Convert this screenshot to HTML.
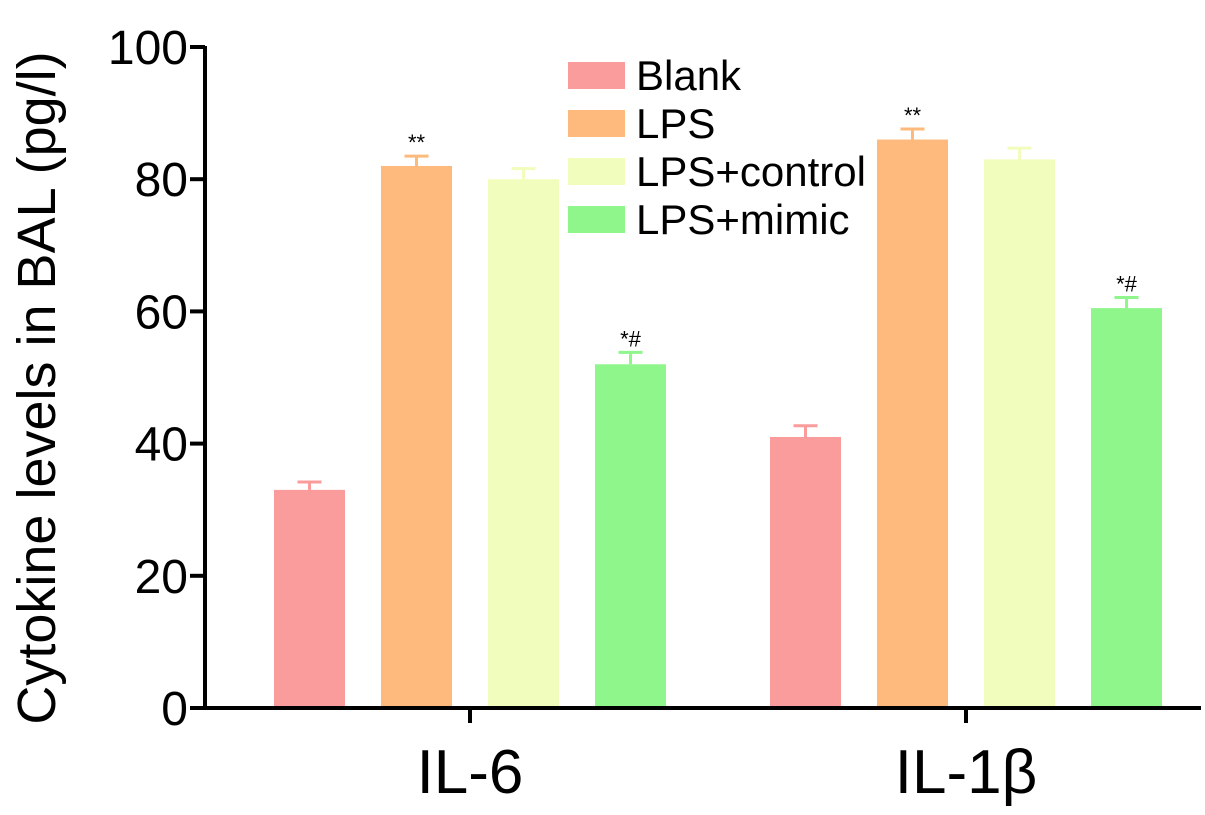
<!DOCTYPE html>
<html><head><meta charset="utf-8"><style>
body{margin:0;background:#fff}
svg{display:block;font-family:"Liberation Sans",Arial,sans-serif}
</style></head><body>
<svg id="c" width="1205" height="815"></svg>
<script>
const groups=["IL-6","IL-1β"];
const seriesNames=["Blank","LPS","LPS+control","LPS+mimic"];
const blankVals=[33,41];
const lpsVals=[82,86];
const controlVals=[80,83];
const mimicVals=[52,60.5];
const blankErr=[1.2,1.7];
const lpsErr=[1.5,1.6];
const controlErr=[1.6,1.7];
const mimicErr=[1.8,1.6];
const marks=[["",""],["**","**"],["",""],["*#","*#"]];
const yTicks=[0,20,40,60,80,100];
const colors=["#f99c9b","#fdba7c","#f1fdbd","#8ff68b"];
const vals=[blankVals,lpsVals,controlVals,mimicVals];
const errs=[blankErr,lpsErr,controlErr,mimicErr];
const NS="http://www.w3.org/2000/svg";
const svg=document.getElementById('c');
function mk(t,a,p){const e=document.createElementNS(NS,t);for(const k in a)e.setAttribute(k,a[k]);(p||svg).appendChild(e);return e;}
const y0=708,yTop=47;
function yS(v){return y0-(v/100)*(y0-yTop);}
const groupCenter=[470,966],barW=71,step=107;
function xS(g,s){return groupCenter[g]+(s-1.5)*step-barW/2;}
let e=mk('line',{x1:205,y1:yTop-1,x2:205,y2:y0+2,stroke:'#000','stroke-width':4});


e=mk('line',{x1:203,y1:y0,x2:1201,y2:y0,stroke:'#000','stroke-width':4});


yTicks.forEach(t=>{
 const y=yS(t);
 let l=mk('line',{x1:190,y1:y,x2:205,y2:y,stroke:'#000','stroke-width':4});
 
 
 let tx=mk('text',{x:188,y:y+17,'text-anchor':'end','font-size':48,fill:'#000'});
 tx.textContent=t;
 
 
});
groups.forEach((g,gi)=>{
 let l=mk('line',{x1:groupCenter[gi],y1:y0,x2:groupCenter[gi],y2:723,stroke:'#000','stroke-width':4});
 
 
 let tx=mk('text',{x:groupCenter[gi],y:793,'text-anchor':'middle','font-size':62,fill:'#000'});
 tx.textContent=g;
 
 
});
vals.forEach((arr,si)=>{
 arr.forEach((v,gi)=>{
  const x=xS(gi,si),cx=x+barW/2,top=yS(v+errs[si][gi]);
  let b=mk('rect',{x:x,y:yS(v),width:barW,height:y0-yS(v)-2,fill:colors[si]});
  
  
  let eb=mk('path',{d:`M${cx} ${yS(v)} V${top} M${cx-12} ${top} H${cx+12}`,stroke:colors[si],'stroke-width':3,fill:'none'});
  
  
  if(marks[si][gi]){
   let m=mk('text',{x:cx,y:top-6,'text-anchor':'middle','font-size':22,fill:'#000'});
   m.textContent=marks[si][gi];
   
   
  }
 });
});
seriesNames.forEach((n,i)=>{
 const y=62+i*48;
 let r=mk('rect',{x:568,y:y,width:57,height:27,fill:colors[i]});
 
 
 let t=mk('text',{x:636,y:y+28,'font-size':42,fill:'#000'});
 t.textContent=n;
 
 
});
let yt=mk('text',{x:0,y:0,'text-anchor':'middle','font-size':54,fill:'#000',transform:'translate(55,388) rotate(-90)'});
yt.textContent='Cytokine levels in BAL (pg/l)';


</script>
</body></html>
